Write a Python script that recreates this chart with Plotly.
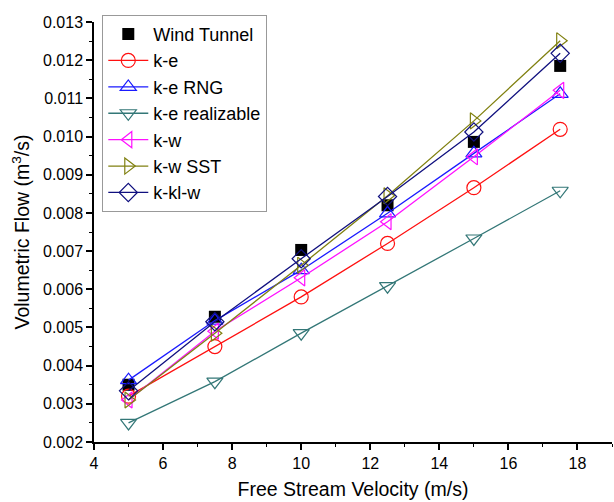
import plotly.graph_objects as go

# Free stream velocity (m/s)
velocity = [5, 7.5, 10, 12.5, 15, 17.5]

# Volumetric flow (m^3/s) for each case
wind_tunnel = [0.0035, 0.00528, 0.00703, 0.0082, 0.00986, 0.01185]
k_e = [0.0032, 0.0045, 0.0058, 0.0072, 0.00866, 0.01019]
k_e_rng = [0.00362, 0.00518, 0.0065, 0.00799, 0.00956, 0.01112]
k_e_realizable = [0.0025, 0.00358, 0.00485, 0.00608, 0.00733, 0.00858]
k_w = [0.0031, 0.0049, 0.0063, 0.00777, 0.00947, 0.01121]
k_w_sst = [0.0031, 0.00485, 0.00663, 0.00845, 0.01041, 0.01251]
k_kl_w = [0.00334, 0.00515, 0.0068, 0.00843, 0.01012, 0.01218]

x_ticks = [4, 6, 8, 10, 12, 14, 16, 18]
y_ticks = [0.002, 0.003, 0.004, 0.005, 0.006, 0.007, 0.008, 0.009, 0.010, 0.011, 0.012, 0.013]

fig = go.Figure()

fig.add_trace(go.Scatter(
    x=velocity, y=wind_tunnel, name="Wind Tunnel", mode="markers",
    marker=dict(symbol="square", size=12, color="black"),
))

model_series = [
    ("k-e", k_e, "#ff1010", "circle-open"),
    ("k-e RNG", k_e_rng, "#1a1aff", "triangle-up-open"),
    ("k-e realizable", k_e_realizable, "#337777", "triangle-down-open"),
    ("k-w", k_w, "#ff10ff", "triangle-left-open"),
    ("k-w SST", k_w_sst, "#808010", "triangle-right-open"),
    ("k-kl-w", k_kl_w, "#10107f", "diamond-open"),
]
for name, vals, color, sym in model_series:
    fig.add_trace(go.Scatter(
        x=velocity, y=vals, name=name, mode="lines+markers",
        line=dict(color=color, width=1.3),
        marker=dict(symbol=sym, size=14, color=color, line=dict(width=1.2, color=color)),
    ))

font_family = "Liberation Sans, Arial, sans-serif"
axis_font = dict(family=font_family, size=16, color="black")

fig.update_layout(
    width=614, height=502,
    margin=dict(l=94, r=2, t=22, b=60),
    paper_bgcolor="white", plot_bgcolor="white",
    font=dict(family=font_family, color="black"),
    showlegend=True,
    legend=dict(
        x=0.016, y=1.017, xanchor="left", yanchor="top",
        bordercolor="#999999", borderwidth=1, bgcolor="white",
        font=dict(family=font_family, size=18, color="black"),
        itemwidth=40, tracegroupgap=0,
    ),
    xaxis=dict(
        range=[4, 19], tickvals=x_ticks, ticktext=[str(v) for v in x_ticks],
        showgrid=False, zeroline=False,
        showline=True, linecolor="black", linewidth=1.5,
        ticks="outside", ticklen=6, tickwidth=1.5, tickcolor="black",
        minor=dict(dtick=1, ticks="outside", ticklen=3, tickwidth=1.2, tickcolor="black", showgrid=False),
        tickfont=axis_font,
        title=dict(text="Free Stream Velocity (m/s)", font=dict(family=font_family, size=19.5), standoff=11),
    ),
    yaxis=dict(
        range=[0.002, 0.013], tickvals=y_ticks, ticktext=[f"{v:.3f}" for v in y_ticks],
        showgrid=False, zeroline=False,
        showline=True, linecolor="black", linewidth=1.5,
        ticks="outside", ticklen=6, tickwidth=1.5, tickcolor="black",
        minor=dict(dtick=0.0005, ticks="outside", ticklen=3, tickwidth=1.2, tickcolor="black", showgrid=False),
        tickfont=axis_font,
        title=dict(text="Volumetric Flow (m<sup>3</sup>/s)", font=dict(family=font_family, size=19.5), standoff=8),
    ),
)

fig.write_html("out.html")
